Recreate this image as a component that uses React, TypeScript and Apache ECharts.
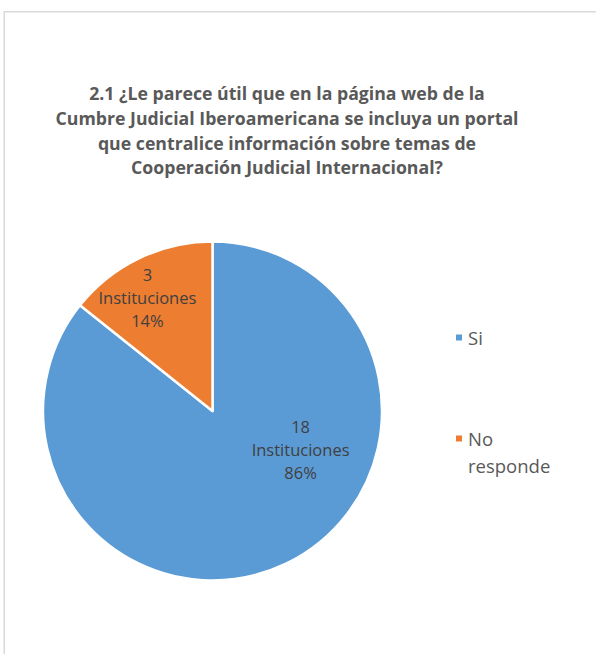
import React, { useEffect, useRef } from "react";
import * as echarts from "echarts";

const titleLines = [
  "2.1 ¿Le parece útil que en la página web de la",
  "Cumbre Judicial Iberoamericana se incluya un portal",
  "que centralice información sobre temas de",
  "Cooperación Judicial Internacional?",
];
const categories = ["Si", "No responde"];
const values = [18, 3];
const colors = ["#5B9BD5", "#ED7D31"];
const unitLabel = "Instituciones";
// label nudges relative to the default inside position
const labelShift = [
  [50, -40.5],
  [-27, -34],
];

export default function App() {
  const ref = useRef<HTMLDivElement>(null);
  useEffect(() => {
    if (!ref.current) return;
    const chart = echarts.init(ref.current, null, { renderer: "svg" });
    const font = "'Open Sans', 'Noto Sans', sans-serif";
    chart.setOption({
      animation: false,
      backgroundColor: "#ffffff",
      title: {
        text: titleLines.join("\n"),
        left: 287,
        textAlign: "center",
        top: 81,
        padding: 0,
        textStyle: {
          fontFamily: font,
          fontSize: 17.7,
          fontWeight: "bold",
          color: "#595959",
          lineHeight: 24.7,
        },
      },
      graphic: [
        {
          type: "rect",
          silent: true,
          shape: { x: 4.25, y: 11.75, width: 800, height: 800 },
          style: { fill: "none", stroke: "#d9d9d9", lineWidth: 1.5 },
        },
      ],
      legend: {
        orient: "vertical",
        left: 454,
        top: 324,
        padding: 0,
        itemWidth: 8,
        itemHeight: 8,
        itemGap: 47,
        icon: "rect",
        data: categories,
        formatter: (name: string) =>
          name === "No responde" ? "\nNo\nresponde" : name,
        textStyle: {
          fontFamily: font,
          fontSize: 18.5,
          color: "#595959",
          lineHeight: 27,
        },
      },
      series: [
        {
          type: "pie",
          center: [212.5, 411],
          radius: [0, 169.5],
          startAngle: 90,
          clockwise: true,
          percentPrecision: 0,
          itemStyle: { borderColor: "#ffffff", borderWidth: 2.5 },
          label: {
            show: true,
            position: "inside",
            formatter: (p: any) => `${p.value}\n${unitLabel}\n${p.percent}%`,
            fontFamily: font,
            fontSize: 16.5,
            lineHeight: 23,
            color: "#404040",
          },
          labelLayout: (p: any) => ({
            dx: labelShift[p.dataIndex][0],
            dy: labelShift[p.dataIndex][1],
          }),
          emphasis: { disabled: true },
          data: categories.map((c, i) => ({
            name: c,
            value: values[i],
            itemStyle: { color: colors[i] },
          })),
        },
      ],
    });
    return () => chart.dispose();
  }, []);
  return (
    <div
      ref={ref}
      style={{ position: "absolute", left: 0, top: 0, width: 596, height: 654 }}
    />
  );
}
